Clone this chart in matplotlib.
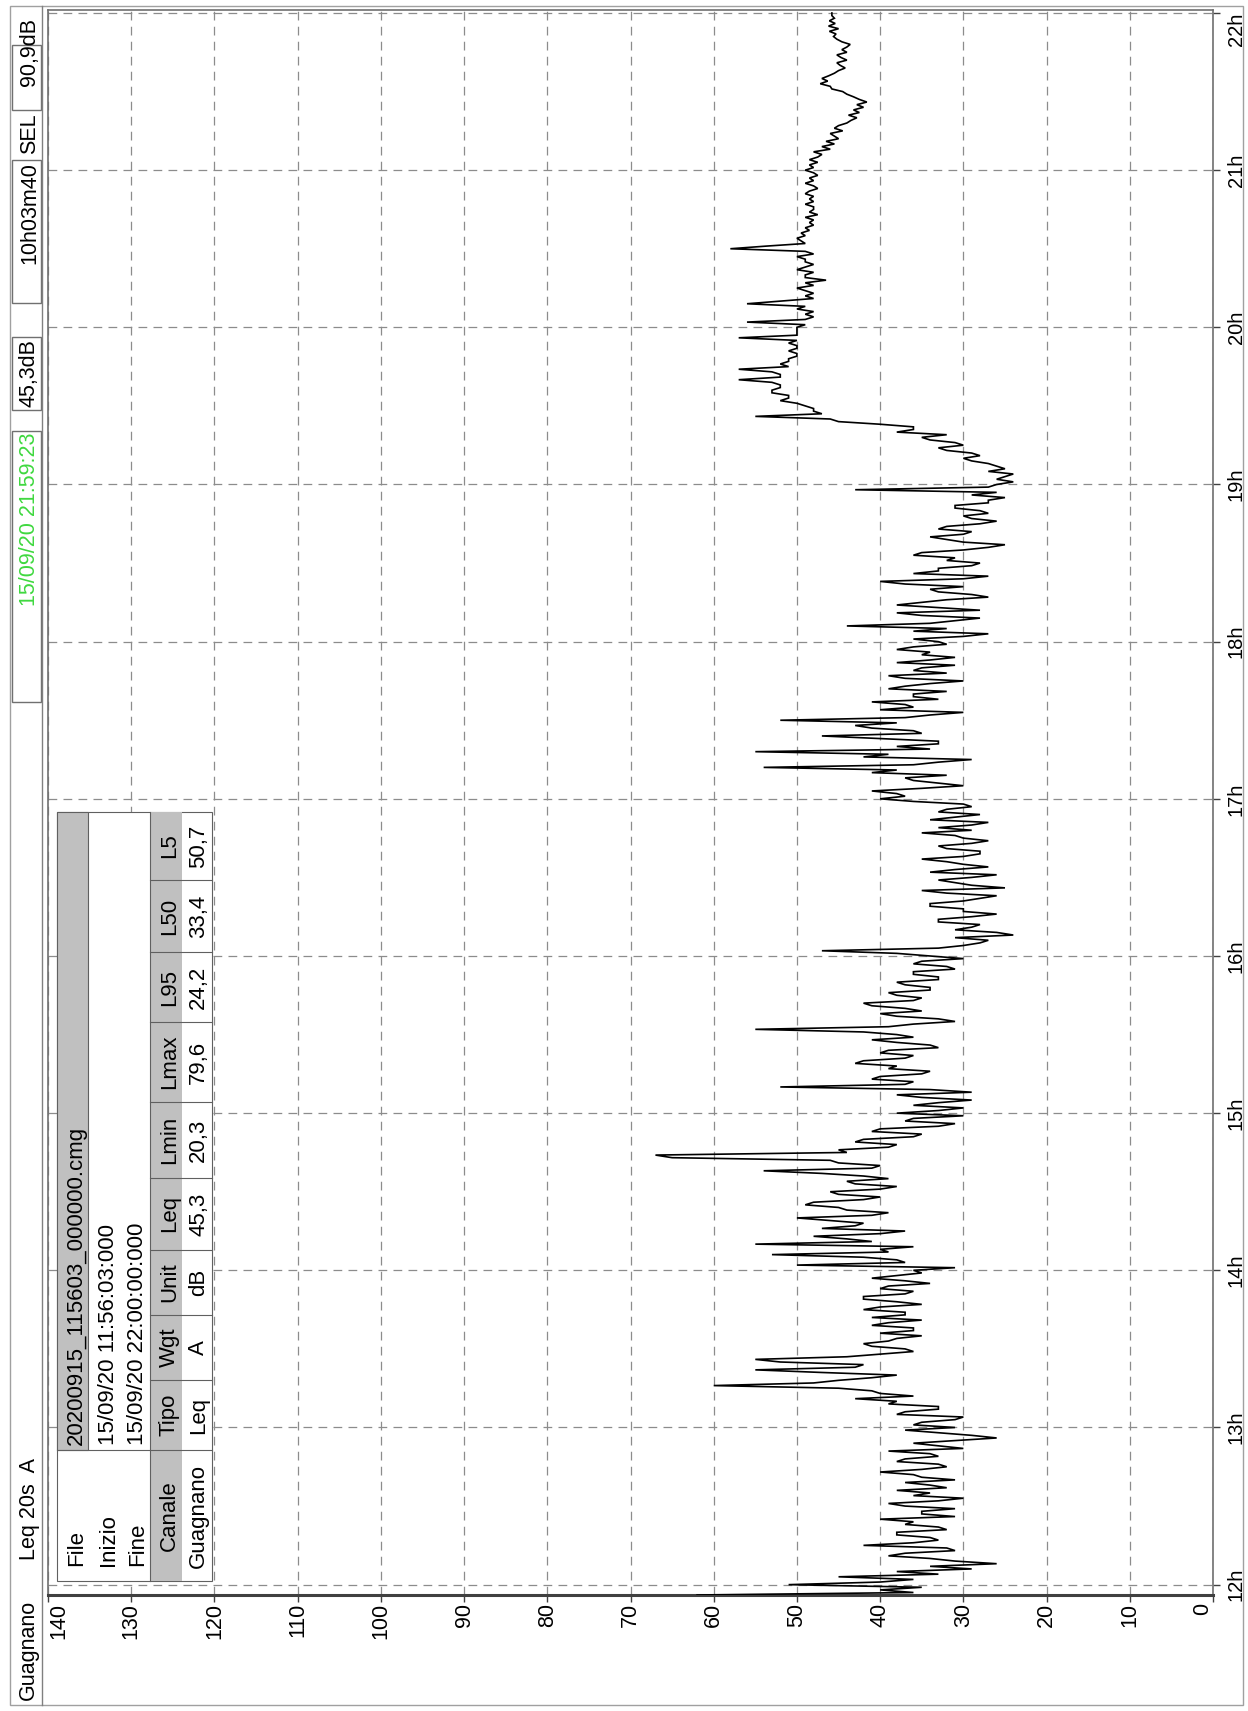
import numpy as np
import matplotlib
matplotlib.use('Agg')
import matplotlib.pyplot as plt
from matplotlib.patches import Rectangle

plt.rcParams['font.family'] = ['Liberation Sans', 'DejaVu Sans']

# ---------------- data (Leq, dB(A)), one value per minute from 11:56:03 ----------------
leq_11h = [62, 36, 40, 35]
leq_12h = [51, 40, 36, 45, 33, 38, 29, 34, 26, 31,
           34, 39, 37, 31, 32, 42, 36, 33, 34, 38,
           38, 32, 33, 37, 36, 40, 31, 35, 35, 31,
           37, 39, 33, 30, 36, 34, 38, 32, 34, 37,
           31, 35, 36, 40, 35, 32, 33, 38, 37, 33,
           34, 39, 30, 33, 36, 31, 26, 29, 33, 37]
leq_13h = [31, 36, 35, 31, 30, 38, 37, 33, 33, 39,
           38, 43, 36, 40, 41, 45, 60, 48, 45, 41,
           38, 47, 55, 43, 42, 52, 55, 44, 40, 36,
           37, 41, 42, 39, 38, 35, 40, 36, 36, 41,
           39, 35, 41, 37, 37, 42, 40, 35, 38, 42,
           42, 37, 36, 40, 39, 34, 37, 41, 38, 35]
leq_14h = [36, 31, 50, 37, 38, 42, 53, 39, 40, 36,
           55, 41, 44, 48, 40, 37, 47, 43, 42, 46,
           50, 41, 39, 44, 45, 49, 48, 42, 40, 45,
           46, 40, 38, 43, 44, 39, 42, 47, 54, 41,
           40, 45, 46, 65, 67, 44, 45, 39, 38, 43,
           42, 36, 35, 41, 40, 33, 31, 37, 36, 30]
leq_15h = [38, 33, 30, 36, 33, 29, 35, 38, 29, 34,
           52, 37, 36, 41, 40, 35, 34, 39, 38, 43,
           42, 37, 36, 40, 39, 33, 34, 38, 41, 36,
           38, 42, 55, 39, 36, 31, 33, 38, 40, 35,
           37, 41, 42, 36, 35, 38, 39, 34, 34, 37,
           38, 33, 33, 36, 36, 31, 32, 36, 35, 30]
leq_16h = [34, 38, 47, 33, 30, 28, 27, 31, 24, 26,
           31, 29, 28, 33, 33, 29, 26, 30, 30, 34,
           34, 30, 28, 26, 32, 35, 25, 29, 31, 33,
           29, 26, 34, 31, 27, 30, 32, 35, 30, 28,
           28, 32, 33, 29, 27, 30, 31, 35, 29, 33,
           29, 27, 34, 31, 28, 33, 32, 29, 30, 36]
leq_17h = [40, 37, 38, 41, 35, 30, 33, 36, 37, 32,
           41, 38, 54, 36, 33, 29, 42, 39, 55, 34,
           38, 33, 33, 40, 47, 35, 36, 41, 43, 38,
           52, 37, 34, 30, 40, 36, 37, 41, 33, 36,
           36, 32, 39, 37, 34, 30, 37, 39, 32, 36,
           35, 31, 38, 34, 31, 35, 34, 38, 36, 32]
leq_18h = [33, 36, 30, 27, 36, 32, 44, 34, 31, 28,
           35, 38, 28, 33, 38, 35, 32, 27, 29, 33,
           34, 30, 37, 40, 30, 27, 36, 33, 33, 29,
           28, 32, 31, 36, 35, 30, 27, 25, 30, 32,
           34, 30, 29, 33, 32, 28, 26, 29, 30, 27,
           28, 31, 31, 27, 27, 25, 29, 26, 43, 27]
leq_19h = [26, 24, 26, 25, 24, 27, 25, 26, 27, 29,
           30, 28, 29, 32, 33, 30, 31, 34, 35, 32,
           38, 36, 36, 40, 45, 46, 55, 47, 48, 48,
           49, 50, 52, 51, 51, 53, 53, 52, 52, 53,
           57, 52, 52, 53, 57, 51, 52, 51, 51, 50,
           50, 51, 50, 50, 51, 50, 57, 50, 50, 50]
leq_20h = [50, 49, 56, 49, 48, 49, 48, 50, 49, 56,
           52, 48, 49, 48, 49, 50, 48, 49, 46.5, 49,
           49, 48, 50, 49, 48, 49, 49, 50, 48, 49,
           58, 53.7, 49, 49.5, 50, 49, 49.5, 48.5, 49, 48,
           48.5, 48, 49, 47.5, 48.5, 48, 48, 49, 48, 48.5,
           48, 49, 48.5, 47.5, 48, 49, 48, 48.5, 47.5, 48]
leq_21h = [49, 48, 48.5, 47.5, 48.5, 47.5, 47, 48, 46, 47,
           45.5, 46.5, 45, 45.5, 46, 44.5, 45.5, 45, 44, 43.5,
           42.8, 43.8, 42.5, 43.2, 42, 42.8, 41.6, 42.5, 43.2, 44,
           44.5, 45.8, 46, 47.2, 46.3, 47, 46.2, 45.5, 45, 44.2,
           44.8, 45.2, 44, 44.7, 45.2, 44, 44.6, 44, 43.6, 44.6,
           45.2, 45.6, 45.3, 46.1, 45, 46.2, 45.4, 46.1, 45.5, 45.8]
leq_22h = [45.8]

step_minutes = 1
start_hour = 11 + 56 / 60 + 3 / 3600

db_ticks = list(range(0, 141, 10))
hour_ticks = list(range(12, 23))
hour_labels = [f"{h}h" for h in hour_ticks]

header_items = ["90,9dB", "SEL", "10h03m40", "45,3dB", "15/09/20 21:59:23"]
channel = "Guagnano"
measure = "Leq 20s  A"

info_labels = ["File", "Inizio", "Fine"]
info_values = ["20200915_115603_000000.cmg", "15/09/20 11:56:03:000", "15/09/20 22:00:00:000"]
table_headers = ["Canale", "Tipo", "Wgt", "Unit", "Leq", "Lmin", "Lmax", "L95", "L50", "L5"]
table_values = ["Guagnano", "Leq", "A", "dB", "45,3", "20,3", "79,6", "24,2", "33,4", "50,7"]

# ---------------- figure ----------------
W, H = 1248, 1711
fig = plt.figure(figsize=(W / 100, H / 100), dpi=100)
fig.patch.set_facecolor('white')

values = np.array(leq_11h + leq_12h + leq_13h + leq_14h + leq_15h + leq_16h +
                  leq_17h + leq_18h + leq_19h + leq_20h + leq_21h + leq_22h, dtype=float)
t = 11 + 56 / 60 + np.arange(len(values)) * step_minutes / 60
t[0] = start_hour
t = np.minimum(t, 22.0)

ax_left, ax_right, ax_top, ax_bottom = 48, 1213, 10, 1595
ax = fig.add_axes([ax_left / W, 1 - ax_bottom / H, (ax_right - ax_left) / W, (ax_bottom - ax_top) / H])
ax.plot(values, t, color='black', lw=1.2, zorder=3, solid_joinstyle='miter')
ax.set_xlim(140, 0)
ax.set_ylim(start_hour, 22.019)

ax.set_xticks(db_ticks, [str(v) for v in db_ticks])
ax.yaxis.tick_right()
ax.set_yticks(hour_ticks, hour_labels)
ax.tick_params(axis='x', direction='out', length=5, width=1, pad=0.5, labelsize=15.5,
               labelrotation=90, color='#404040')
ax.tick_params(axis='y', direction='out', length=5, width=1, pad=5, labelsize=14.5,
               labelrotation=90, color='#404040')
for lbl in ax.get_xticklabels():
    txt = lbl.get_text()
    if txt == '140':
        lbl.set_ha('left')
    elif txt == '0':
        lbl.set_ha('right')
    else:
        lbl.set_ha('center')
for lbl in ax.get_yticklabels():
    if lbl.get_text() == '22h':
        lbl.set_va('top')
    else:
        lbl.set_va('center')

ax.grid(True, color='#8c8c8c', linestyle=(0, (7, 5)), linewidth=0.9, zorder=1)
ax.set_axisbelow(True)
for side in ['left', 'right', 'top']:
    ax.spines[side].set_color('#707070')
    ax.spines[side].set_linewidth(1.2)
ax.spines['bottom'].set_color('#404040')
ax.spines['bottom'].set_linewidth(2.2)

# ---------------- overlay (header bar + info table) in pixel coordinates ----------------
ov = fig.add_axes([0, 0, 1, 1], zorder=5)
ov.set_xlim(0, W)
ov.set_ylim(H, 0)
ov.axis('off')
ov.patch.set_visible(False)

ov.add_patch(Rectangle((10, 6), 1233, 1699, fill=False, edgecolor='#a0a0a0', lw=1))
ov.plot([42, 42], [6, 1705], color='#808080', lw=1)

boxes = [(45, 110), (160, 303), (337, 410), (431, 702)]
for y0, y1 in boxes:
    ov.add_patch(Rectangle((12, y0), 29, y1 - y0, fill=False, edgecolor='#707070', lw=1))

hb_kw = dict(rotation=90, rotation_mode='anchor', va='baseline', fontsize=15.5)
ov.text(35, 18, header_items[0], ha='right', color='black', **hb_kw)
ov.text(35, 113, header_items[1], ha='right', color='black', **hb_kw)
ov.text(35, 162, header_items[2], ha='right', color='black', **hb_kw)
ov.text(35, 339, header_items[3], ha='right', color='black', **hb_kw)
ov.text(35, 433, header_items[4], ha='right', color='#3fd83f', **hb_kw)
ov.text(35, 1560, measure, ha='left', color='black', **hb_kw)
ov.text(34, 1700, channel, ha='left', color='black', **hb_kw)

# info table
tx0, tx1, ty0, ty1 = 57, 212, 812, 1581
gray = '#c0c0c0'
edge = '#606060'
ov.add_patch(Rectangle((tx0, ty0), tx1 - tx0, ty1 - ty0, facecolor='white', edgecolor=edge, lw=0.8))
ov.add_patch(Rectangle((57, ty0), 31, 1450 - ty0, facecolor=gray, edgecolor=edge, lw=0.8))
ov.add_patch(Rectangle((150, ty0), 32, ty1 - ty0, facecolor=gray, edgecolor='none'))
ov.plot([150, 150], [ty0, ty1], color=edge, lw=0.8)
ov.plot([tx0, tx1], [1450, 1450], color=edge, lw=0.8)

col_edges = [1581, 1450, 1380, 1315, 1250, 1178, 1102, 1022, 952, 880, 812]
for ye in col_edges[2:-1]:
    ov.plot([150, tx1], [ye, ye], color=edge, lw=0.8)

tb_kw = dict(rotation=90, rotation_mode='anchor', va='baseline', fontsize=16, color='black')
info_baselines = [82, 114, 143]
for lab, val, bx in zip(info_labels, info_values, info_baselines):
    ov.text(bx, 1566, lab, ha='left', **tb_kw)
    ov.text(bx, 1445, val, ha='left', **tb_kw)

for i, (hd, vl) in enumerate(zip(table_headers, table_values)):
    yc = (col_edges[i] + col_edges[i + 1]) / 2
    ov.text(175, yc, hd, ha='center', **tb_kw)
    ov.text(204, yc, vl, ha='center', **tb_kw)

fig.savefig('out.png', dpi=100, facecolor='white')
